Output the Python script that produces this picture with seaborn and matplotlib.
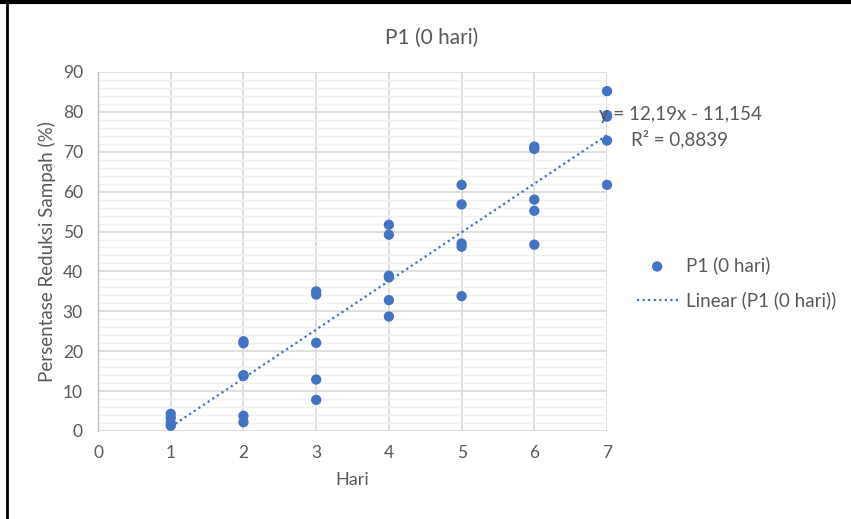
import matplotlib
matplotlib.use("Agg")
import matplotlib.pyplot as plt
from matplotlib.lines import Line2D
import numpy as np
import pandas as pd
import seaborn as sns

# Values
hari = [1, 1, 1, 1,
        2, 2, 2, 2, 2, 2,
        3, 3, 3, 3, 3,
        4, 4, 4, 4, 4, 4,
        5, 5, 5, 5, 5,
        6, 6, 6, 6, 6,
        7, 7, 7, 7, 7]
reduksi = [4.3, 3.3, 2.0, 1.3,
           22.5, 22.0, 14.0, 13.8, 3.8, 2.2,
           35.0, 34.2, 22.1, 12.9, 7.8,
           51.7, 49.2, 38.9, 38.5, 32.8, 28.7,
           61.7, 56.8, 47.0, 46.2, 33.8,
           71.3, 70.7, 58.0, 55.2, 46.7,
           85.2, 79.2, 78.8, 72.8, 61.7]

# trend line as printed on the chart
slope = 12.19
intercept = -11.154
trend_x = [1, 7]
eq_text = "y = 12,19x - 11,154"
r2_text = "R² = 0,8839"

title = "P1 (0 hari)"
x_label = "Hari"
y_label = "Persentase Reduksi Sampah (%)"
x_ticks = list(range(0, 8))
y_ticks = list(range(0, 91, 10))

df = pd.DataFrame({"Hari": hari, "Reduksi": reduksi})

sns.set_theme(style="white")
plt.rcParams["font.family"] = ["Lato", "DejaVu Sans"]

text_color = "#595959"
point_color = "#4472C4"

fig = plt.figure(figsize=(8.51, 5.19), dpi=100)
ax = fig.add_axes([0.1152, 0.1696, 0.5981, 0.6917])

# grid
ax.set_xlim(0, 7)
ax.set_ylim(0, 90)
ax.set_xticks(x_ticks)
ax.set_yticks(y_ticks)
ax.set_yticks(np.arange(0, 91, 2), minor=True)
ax.grid(which="major", color="#d9d9d9", linewidth=1.2, zorder=0)
ax.grid(which="minor", axis="y", color="#f0f0f0", linewidth=1.0, zorder=0)
ax.set_axisbelow(True)

sns.scatterplot(data=df, x="Hari", y="Reduksi", ax=ax, color=point_color,
                s=55, edgecolor="none", zorder=3, clip_on=False,
                label=title)

trend_y = [slope * x + intercept for x in trend_x]
ax.plot(trend_x, trend_y, linestyle=(0, (1, 1.5)), color=point_color,
        linewidth=1.6, zorder=2, label="Linear (P1 (0 hari))")

for side in ["top", "right", "bottom"]:
    ax.spines[side].set_visible(False)
ax.spines["left"].set_color("#bfbfbf")
ax.spines["left"].set_linewidth(1.0)
ax.tick_params(axis="y", which="major", length=5, color="#bfbfbf",
               labelsize=12.5, labelcolor=text_color, pad=6)
ax.tick_params(axis="y", which="minor", length=0)
ax.tick_params(axis="x", length=0, labelsize=12.5, labelcolor=text_color, pad=10)

ax.set_xlabel(x_label, fontsize=13, color=text_color, labelpad=8)
ax.set_ylabel(y_label, fontsize=13.5, color=text_color, labelpad=5)

fig.text(0.5076, 0.928, title, fontsize=15, color=text_color,
         ha="center", va="center")

fig.text(0.800, 0.780, eq_text, fontsize=13.5, color=text_color,
         ha="center", va="center")
fig.text(0.799, 0.732, r2_text, fontsize=13.5, color=text_color,
         ha="center", va="center")

leg = ax.legend(loc="center left", bbox_to_anchor=(0.748, 0.455),
                bbox_transform=fig.transFigure, frameon=False, fontsize=13.5,
                handlelength=2.2, labelspacing=0.9, handletextpad=0.45,
                borderaxespad=0, borderpad=0)
for txt in leg.get_texts():
    txt.set_color(text_color)

# black frame of the screenshot (top and left)
fig.add_artist(Line2D([0, 1], [0.9965, 0.9965], color="black", linewidth=3,
                      transform=fig.transFigure))
fig.add_artist(Line2D([0.0088, 0.0088], [0, 1], color="black", linewidth=2,
                      transform=fig.transFigure))

fig.savefig("out.png", dpi=100)
